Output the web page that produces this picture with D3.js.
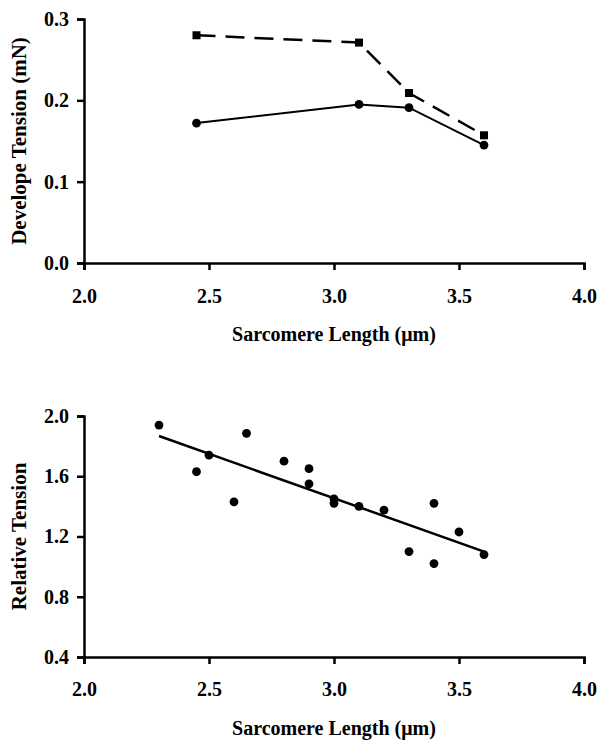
<!DOCTYPE html>
<html>
<head>
<meta charset="utf-8">
<script src="https://cdn.jsdelivr.net/npm/d3@7"></script>
<style>
  body { margin: 0; background: #fff; }
  text { font-family: "Liberation Serif", "Times New Roman", serif; font-weight: bold; fill: #000; }
</style>
</head>
<body>
<svg id="chart" width="600" height="740"></svg>
<script>
// top panel: developed tension vs sarcomere length
const sarcLen = [2.45, 3.1, 3.3, 3.6];
const tensionSquares = [0.280, 0.271, 0.209, 0.157];
const tensionCircles = [0.172, 0.195, 0.191, 0.145];

// bottom panel: relative tension scatter
const relX = [2.3, 2.45, 2.5, 2.6, 2.65, 2.8, 2.9, 2.9, 3.0, 3.0, 3.1, 3.2, 3.3, 3.4, 3.4, 3.5, 3.6];
const relY = [1.94, 1.63, 1.74, 1.43, 1.885, 1.70, 1.65, 1.55, 1.45, 1.42, 1.40, 1.375, 1.10, 1.42, 1.02, 1.23, 1.08];
const trendX = [2.3, 3.6];
const trendY = [1.867, 1.10];

const xTicks = [2.0, 2.5, 3.0, 3.5, 4.0];
const topYTicks = [0.0, 0.1, 0.2, 0.3];
const botYTicks = [0.4, 0.8, 1.2, 1.6, 2.0];

const svg = d3.select('#chart');
const left = 84, right = 584;

function panel(cfg) {
  const g = svg.append('g');
  const x = d3.scaleLinear().domain([2.0, 4.0]).range([left, right]);
  const y = d3.scaleLinear().domain(cfg.yDomain).range([cfg.bottom, cfg.top]);

  const xAxis = g.append('g')
    .attr('transform', `translate(0, ${cfg.bottom})`)
    .call(d3.axisBottom(x).tickValues(xTicks).tickFormat(d3.format('.1f')).tickSize(7).tickPadding(cfg.xPad));
  const yAxis = g.append('g')
    .attr('transform', `translate(${left}, 0)`)
    .call(d3.axisLeft(y).tickValues(cfg.yTicks).tickFormat(d3.format('.1f')).tickSize(7).tickPadding(8));

  [xAxis, yAxis].forEach(a => {
    a.select('.domain').attr('stroke', '#000').attr('stroke-width', 2.5);
    a.selectAll('.tick line').attr('stroke', '#000').attr('stroke-width', 2.5);
    a.selectAll('.tick text')
      .style('font-family', '"Liberation Serif", serif')
      .style('font-weight', 'bold')
      .style('font-size', '20px');
  });

  g.append('text')
    .attr('x', (left + right) / 2)
    .attr('y', cfg.bottom + 78)
    .attr('text-anchor', 'middle')
    .style('font-size', '20px')
    .text('Sarcomere Length (\u03bcm)');

  g.append('text')
    .attr('transform', `translate(26, ${(cfg.top + cfg.bottom) / 2}) rotate(-90)`)
    .attr('text-anchor', 'middle')
    .style('font-size', '21px')
    .text(cfg.yTitle);

  return { g, x, y };
}

// top panel
const p1 = panel({ top: 19, bottom: 263, yDomain: [0, 0.3], yTicks: topYTicks, xPad: 19, yTitle: 'Develope Tension (mN)' });
const line1 = d3.line().x(d => p1.x(d[0])).y(d => p1.y(d[1]));
const sq = d3.zip(sarcLen, tensionSquares);
const ci = d3.zip(sarcLen, tensionCircles);

p1.g.append('path').datum(sq)
  .attr('d', line1).attr('fill', 'none').attr('stroke', '#000')
  .attr('stroke-width', 2.5).attr('stroke-dasharray', '19,10');
p1.g.append('path').datum(ci)
  .attr('d', line1).attr('fill', 'none').attr('stroke', '#000').attr('stroke-width', 2);

p1.g.selectAll('.sq').data(sq).enter().append('rect')
  .attr('x', d => p1.x(d[0]) - 4).attr('y', d => p1.y(d[1]) - 4)
  .attr('width', 8).attr('height', 8).attr('fill', '#000');
p1.g.selectAll('.ci').data(ci).enter().append('circle')
  .attr('cx', d => p1.x(d[0])).attr('cy', d => p1.y(d[1]))
  .attr('r', 4.4).attr('fill', '#000');

// bottom panel
const p2 = panel({ top: 416, bottom: 657, yDomain: [0.4, 2.0], yTicks: botYTicks, xPad: 18, yTitle: 'Relative Tension' });
const pts = d3.zip(relX, relY);
p2.g.append('path').datum(d3.zip(trendX, trendY))
  .attr('d', d3.line().x(d => p2.x(d[0])).y(d => p2.y(d[1])))
  .attr('fill', 'none').attr('stroke', '#000').attr('stroke-width', 2.5);
p2.g.selectAll('.pt').data(pts).enter().append('circle')
  .attr('cx', d => p2.x(d[0])).attr('cy', d => p2.y(d[1]))
  .attr('r', 4.4).attr('fill', '#000');
</script>
</body>
</html>
